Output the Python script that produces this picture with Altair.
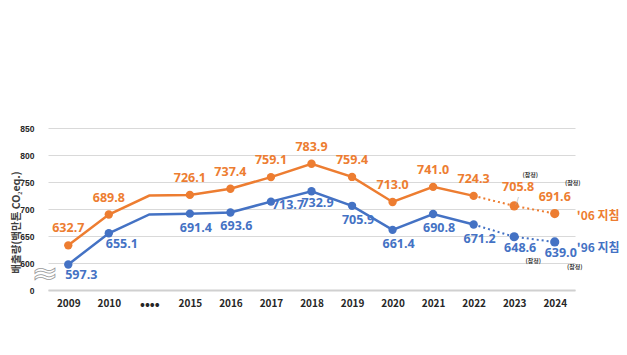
import altair as alt
import pandas as pd

years = ["2009", "2010", "••••", "2015", "2016", "2017", "2018", "2019", "2020", "2021", "2022", "2023", "2024"]
orange_vals = [632.7, 689.8, 725.0, 726.1, 737.4, 759.1, 783.9, 759.4, 713.0, 741.0, 724.3, 705.8, 691.6]
blue_vals = [597.3, 655.1, 690.0, 691.4, 693.6, 713.7, 732.9, 705.9, 661.4, 690.8, 671.2, 648.6, 639.0]
projected_years = ["2023", "2024"]
series_names = ["'06 지침", "'96 지침"]
provisional = "(잠정)"
y_ticks = [550, 600, 650, 700, 750, 800, 850]
break_at = [579]

ORANGE = "#ED7D31"
BLUE = "#4472C4"
ORANGE_L = "#F4B98F"
BLUE_L = "#B4C7EA"
FONT = "Noto Sans CJK KR"
NUMFONT = "Open Sans"

rows = []
for name, vals in zip(series_names, [orange_vals, blue_vals]):
    for i, (y, v) in enumerate(zip(years, vals)):
        rows.append({
            "year": y, "idx": i, "series": name, "value": v,
            "label": f"{v:.1f}",
            "proj": y in projected_years,
            "solid": y not in projected_years,
            "dotted": y in ["2022"] + projected_years,
            "marker": y != "••••",
        })
df = pd.DataFrame(rows)

x = alt.X("year:N", sort=years,
          scale=alt.Scale(padding=0.5),
          axis=alt.Axis(title=None, labelAngle=0, labelFont=FONT, labelFontWeight="bold",
                        labelFontSize={"condition": {"test": "datum.value == '••••'", "value": 13}, "value": 10},
                        labelColor="#262626", labelPadding=8,
                        ticks=False, domainColor="#D0D0D0", domainWidth=2, grid=False))
y = alt.Y("value:Q",
          scale=alt.Scale(domain=[550, 850], nice=False, zero=False),
          axis=alt.Axis(title="배출량(백만톤 CO₂eq.)", values=y_ticks,
                        labelExpr="datum.value == 550 ? '0' : datum.label",
                        labelFont="Liberation Sans Narrow, Liberation Sans", labelFontWeight="bold",
                        labelFontSize=8.5,
                        labelColor="#262626", labelPadding=14, labelOverlap=False,
                        ticks=False, domain=False,
                        grid=True, gridColor="#D9D9D9", gridWidth=1,
                        titleFont=FONT, titleFontSize=10.5, titleFontWeight="bold",
                        titleColor="#404040", titleX=-32, titleY=94,
                        titleAlign="center", titleBaseline="middle", titleAngle=-90))
color = alt.Color("series:N", scale=alt.Scale(domain=series_names, range=[ORANGE, BLUE]), legend=None)
light = alt.Color("series:N", scale=alt.Scale(domain=series_names, range=[ORANGE_L, BLUE_L]), legend=None)

base = alt.Chart(df)

solid = base.transform_filter("datum.solid").mark_line(strokeWidth=2.5).encode(
    x=x, y=y, color=color, order="idx:Q")
dotted = base.transform_filter("datum.dotted").mark_line(strokeWidth=2, strokeDash=[2, 3]).encode(
    x=x, y=y, color=color, order="idx:Q")
pts = base.transform_filter("datum.marker && !datum.proj").mark_circle(size=70, opacity=1).encode(
    x=x, y=y, color=color)
ppts = base.transform_filter("datum.proj").mark_circle(size=85, opacity=1).encode(
    x=x, y=y, color=light)

is_o = f"datum.series == \"{series_names[0]}\""
is_b = f"datum.series == \"{series_names[1]}\""

def lab(filt, dx, dy, col):
    return base.transform_filter(filt).mark_text(
        font=NUMFONT, fontSize=12.5, fontWeight="bold", dx=dx, dy=dy, color=col
    ).encode(x=x, y=y, text="label:N")

o_lab = lab(f"{is_o} && datum.marker && datum.year != '2023'", 0, -17, ORANGE)
o_lab23 = lab(f"{is_o} && datum.year == '2023'", 4, -19, ORANGE)
b_lab_first = lab(f"{is_b} && (datum.year == '2009' || datum.year == '2010')", 13, 11, BLUE)
b_lab17 = lab(f"{is_b} && datum.year == '2017'", 17, 3, BLUE)
b_lab18 = lab(f"{is_b} && datum.year == '2018'", 6, 12, BLUE)
b_lab = lab(f"{is_b} && datum.marker && indexof(['2009','2010','2017','2018','2023','2024'], datum.year) < 0", 6, 14, BLUE)
b_labp = lab(f"{is_b} && datum.proj", 6, 11, BLUE)

# leader line for the provisional 2023 label
leader = base.transform_filter(f"{is_o} && datum.year == '2023'").mark_text(
    text="/", font=FONT, fontSize=8, color="#A6A6A6", dx=3, dy=-5
).encode(x=x, y=y)

prov_df = df[df["proj"]].assign(p=provisional)
def prov(filt, dx, dy):
    return alt.Chart(prov_df).transform_filter(filt).mark_text(
        font=FONT, fontSize=6, fontWeight="bold", color="#404040", dx=dx, dy=dy
    ).encode(x=x, y=y, text="p:N")

prov_o23 = prov(f"{is_o} && datum.year == '2023'", 16, -31)
prov_o24 = prov(f"{is_o} && datum.year == '2024'", 18, -31)
prov_b23 = prov(f"{is_b} && datum.year == '2023'", 19, 24)
prov_b24 = prov(f"{is_b} && datum.year == '2024'", 20, 25)

last = df[df["year"] == years[-1]]
ser_o = alt.Chart(last).transform_filter(is_o).mark_text(
    font=FONT, fontSize=12, fontWeight="bold", color=ORANGE, align="left", dx=22, dy=2
).encode(x=x, y=y, text="series:N")
ser_b = alt.Chart(last).transform_filter(is_b).mark_text(
    font=FONT, fontSize=12, fontWeight="bold", color=BLUE, align="left", dx=22, dy=6
).encode(x=x, y=y, text="series:N")

# axis-break symbol between 0 and 600 (shares the same y encoding / axis)
brk = alt.Chart(pd.DataFrame({"value": break_at})).mark_text(
    text="≈", font="DejaVu Sans", fontSize=32, fill="white", stroke="#9A9A9A", strokeWidth=0.8,
    baseline="middle", align="center"
).encode(x=alt.value(-3), y=y)

chart = alt.layer(
    solid, dotted, pts, ppts, brk,
    o_lab, o_lab23, b_lab_first, b_lab17, b_lab18, b_lab, b_labp, leader,
    prov_o23, prov_o24, prov_b23, prov_b24, ser_o, ser_b
).properties(
    width=527, height=162,
    autosize=alt.AutoSizeParams(type="none"),
    padding={"left": 40, "top": 120, "right": 44, "bottom": 45},
    background="white",
).configure_view(stroke=None)

chart.save("out.html", embed_options={"renderer": "svg", "actions": False})
